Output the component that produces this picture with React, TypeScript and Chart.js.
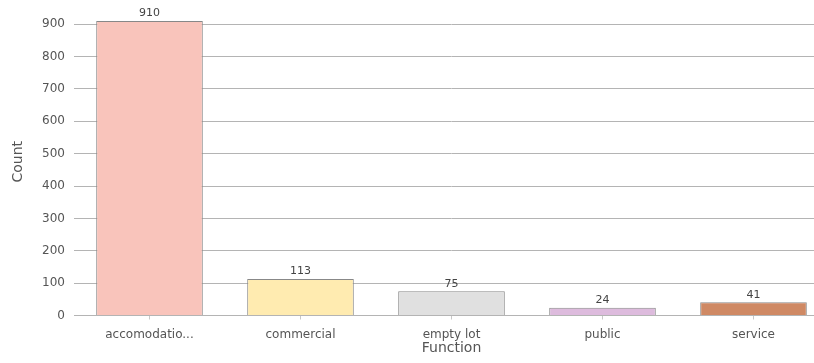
import React, { useEffect, useRef } from "react";
import { Chart, registerables } from "chart.js";

Chart.register(...registerables);

const categories = ["accomodatio...", "commercial", "empty lot", "public", "service"];
const counts = [910, 113, 75, 24, 41];
const barColors = ["#F9C4BB", "#FFEBB0", "#E0E0E0", "#DDBBDD", "#CF8964"];
const yTickStep = 100;
const yMax = 950;
const xTitle = "Function";
const yTitle = "Count";

const FONT = "'DejaVu Sans', sans-serif";

const valueLabels = {
  id: "valueLabels",
  afterDatasetsDraw(chart: any) {
    const ctx = chart.ctx;
    const meta = chart.getDatasetMeta(0);
    ctx.save();
    ctx.font = `11px ${FONT}`;
    ctx.fillStyle = "#444";
    ctx.textAlign = "center";
    ctx.textBaseline = "bottom";
    meta.data.forEach((el: any, i: number) => {
      ctx.fillText(String(counts[i]), el.x, el.y - 2);
    });
    ctx.restore();
  },
};

export default function App() {
  const ref = useRef<HTMLCanvasElement | null>(null);
  useEffect(() => {
    if (!ref.current) return;
    const chart = new Chart(ref.current, {
      type: "bar",
      data: {
        labels: categories,
        datasets: [
          {
            data: counts,
            backgroundColor: barColors,
            borderColor: "#888888",
            borderWidth: 1,
            barPercentage: 0.706,
            categoryPercentage: 1,
          },
        ],
      },
      options: {
        animation: false,
        responsive: false,
        maintainAspectRatio: false,
        layout: { padding: { top: 8, left: 0, right: 0, bottom: 0 } },
        plugins: { legend: { display: false }, tooltip: { enabled: false } },
        scales: {
          x: {
            afterFit(axis: any) {
              axis.height = 47.5;
              axis.paddingLeft = 0;
              axis.paddingRight = 0;
            },
            grid: {
              drawOnChartArea: false,
              offset: false,
              tickLength: 4,
              color: "#c8c8c8",
            },
            border: { display: true, color: "#b4b4b4" },
            ticks: {
              color: "#555",
              font: { family: FONT, size: 12 },
              padding: 8,
              maxRotation: 0,
              autoSkip: false,
            },
            title: {
              display: true,
              text: xTitle,
              color: "#555",
              font: { family: FONT, size: 14 },
              padding: { top: 0, bottom: 6 },
            },
          },
          y: {
            min: 0,
            max: yMax,
            afterFit(axis: any) {
              axis.width = 74;
              axis.paddingTop = 0;
              axis.paddingBottom = 0;
            },
            afterBuildTicks(axis: any) {
              axis.ticks = axis.ticks.filter((t: any) => t.value % yTickStep === 0);
            },
            grid: {
              drawTicks: false,
              color: "#b4b4b4",
            },
            border: { display: false },
            ticks: {
              stepSize: yTickStep,
              color: "#555",
              font: { family: FONT, size: 12 },
              padding: 9,
            },
            title: {
              display: true,
              text: yTitle,
              color: "#555",
              font: { family: FONT, size: 14 },
              padding: { top: 10, bottom: 0 },
            },
          },
        },
      },
      plugins: [valueLabels],
    });
    return () => chart.destroy();
  }, []);

  return (
    <div
      style={{
        position: "fixed",
        left: 0,
        top: 0,
        width: 814,
        height: 363,
        overflow: "hidden",
        background: "#fff",
      }}
    >
      <canvas ref={ref} width={829} height={363} style={{ display: "block" }} />
    </div>
  );
}
